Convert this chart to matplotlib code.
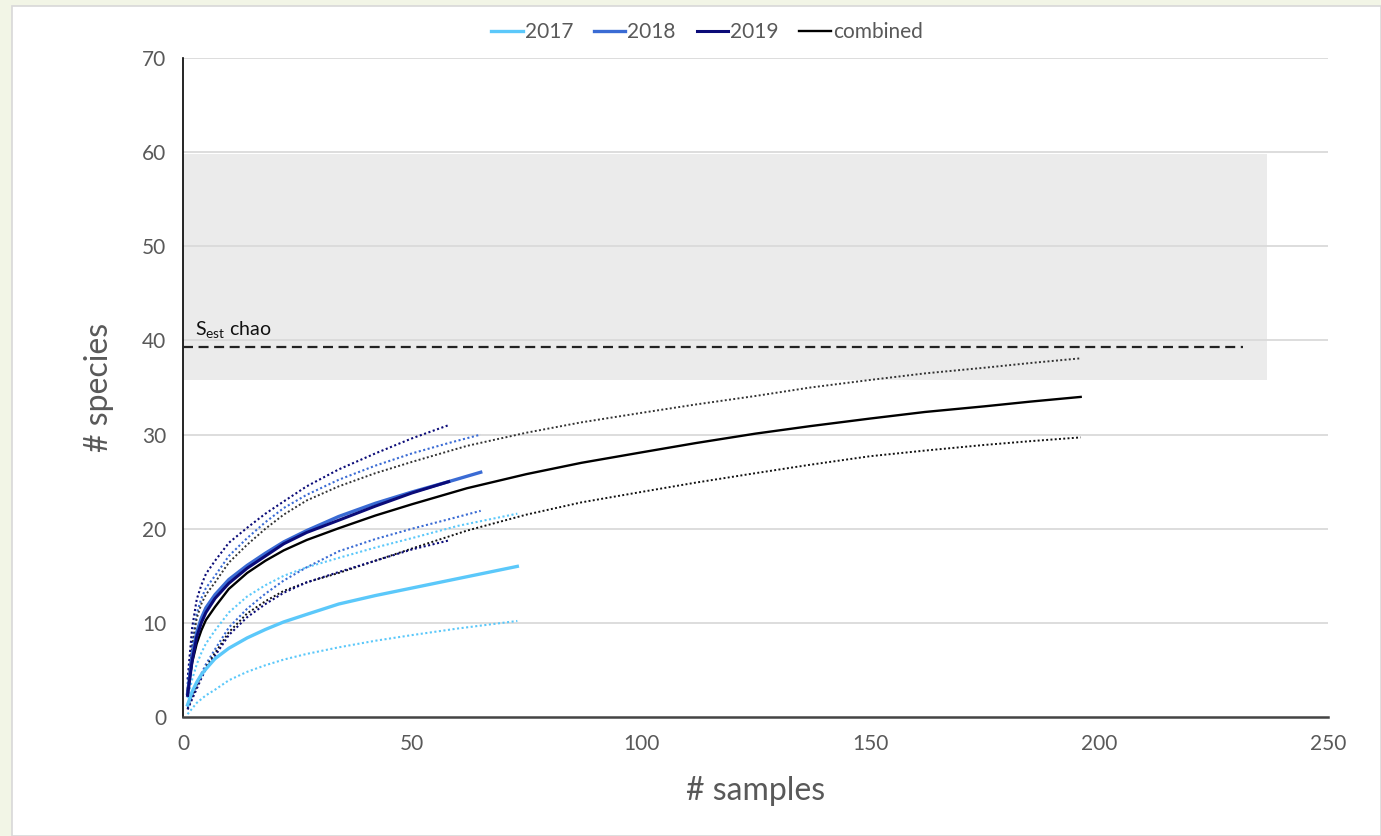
import matplotlib.pyplot as plt
from matplotlib.patches import Rectangle

plt.rcParams['font.family'] = ['Lato', 'DejaVu Sans']

# values (x = # samples, y = # species)
x_2017 = [1, 2, 3, 4, 5, 7, 10, 14, 18, 22, 27, 34, 42, 50, 60, 73]
y_2017 = [1.3, 2.7, 3.7, 4.5, 5.1, 6.2, 7.3, 8.4, 9.3, 10.1, 10.9, 12.0, 12.9, 13.7, 14.7, 16.0]
lo_2017 = [0.3, 0.9, 1.5, 1.9, 2.3, 2.9, 3.9, 4.8, 5.5, 6.1, 6.7, 7.4, 8.1, 8.7, 9.4, 10.2]
hi_2017 = [2.0, 4.0, 5.6, 6.8, 7.8, 9.2, 11.1, 12.8, 14.0, 15.0, 15.9, 16.9, 18.0, 19.0, 20.3, 21.6]

x_2018 = [1, 2, 3, 4, 5, 7, 10, 14, 18, 22, 27, 34, 42, 50, 58, 65]
y_2018 = [2.5, 6.5, 9.0, 10.5, 11.6, 13.0, 14.6, 16.1, 17.4, 18.6, 19.8, 21.3, 22.7, 23.9, 25.0, 26.0]
lo_2018 = [1.0, 2.3, 3.5, 4.6, 5.6, 7.2, 9.5, 11.5, 13.1, 14.5, 15.9, 17.6, 18.9, 20.0, 21.0, 21.9]
hi_2018 = [3.5, 8.0, 11.0, 12.6, 13.7, 15.0, 17.1, 19.0, 20.7, 22.2, 23.6, 25.2, 26.7, 28.0, 29.1, 30.0]

x_2019 = [1, 2, 3, 4, 5, 7, 10, 14, 18, 22, 27, 34, 42, 50, 58]
y_2019 = [2.3, 6.0, 8.5, 10.0, 11.1, 12.6, 14.2, 15.8, 17.1, 18.4, 19.6, 20.9, 22.4, 23.8, 25.0]
lo_2019 = [0.8, 1.9, 3.0, 4.1, 5.1, 6.5, 8.7, 10.6, 12.0, 13.2, 14.3, 15.4, 16.6, 17.8, 18.75]
hi_2019 = [4.0, 9.5, 12.5, 14.0, 15.2, 16.6, 18.5, 20.1, 21.6, 22.9, 24.5, 26.3, 28.0, 29.6, 31.0]

x_all = [1, 2, 3, 4, 5, 7, 10, 14, 18, 22, 27, 34, 42, 50, 62, 75, 87, 100,
         112, 125, 137, 150, 162, 175, 185, 196]
y_all = [2.8, 5.8, 7.8, 9.2, 10.3, 11.7, 13.6, 15.3, 16.6, 17.7, 18.8, 20.05, 21.4, 22.6,
         24.3, 25.8, 27.0, 28.1, 29.1, 30.1, 30.9, 31.7, 32.4, 33.0, 33.5, 34.0]
lo_all = [0.85, 2.1, 3.3, 4.4, 5.3, 6.8, 9.0, 11.0, 12.3, 13.4, 14.3, 15.3, 16.6, 17.9,
          19.8, 21.5, 22.8, 23.9, 24.9, 25.9, 26.8, 27.7, 28.3, 28.9, 29.3, 29.7]
hi_all = [3.0, 7.5, 10.5, 12.0, 13.0, 14.3, 16.4, 18.3, 20.0, 21.5, 23.0, 24.5, 25.9, 27.1,
          28.8, 30.2, 31.3, 32.3, 33.2, 34.1, 35.0, 35.8, 36.5, 37.1, 37.6, 38.1]

chao_est = 39.3
chao_lo, chao_hi = 35.8, 59.8
chao_x = [0, 231.5]
band_x = [-0.4, 236.7]

c17, c18, c19 = '#5BC8FA', '#3A6BD4', '#0B0B78'
txt = '#595959'

fig = plt.figure(figsize=(13.81, 8.36), dpi=100)
fig.patch.set_facecolor('#F2F5E6')
fig.patches.append(Rectangle((12 / 1381, 0), 1 - 12 / 1381, 1 - 6 / 836,
                             transform=fig.transFigure, facecolor='white',
                             edgecolor='#D8D8D8', lw=1.2, zorder=-1))

ax = fig.add_axes([183 / 1381, 1 - 717 / 836, (1328 - 183) / 1381, (717 - 58) / 836])
ax.set_facecolor('none')
ax.set_zorder(2)

ax.fill_between(band_x, chao_lo, chao_hi, color='#EBEBEB', lw=0, zorder=1)
for v in range(10, 80, 10):
    ax.axhline(v, color='#DADADA', lw=1.3, zorder=1.5)
ax.plot(chao_x, [chao_est, chao_est], color='#222222', lw=1.6, ls=(0, (4.5, 2.5)), zorder=3)
ax.text(2.6, 40.6, r'$\mathregular{S_{est}}$ chao', fontsize=14, color='#111111')

dot = (0, (1, 1.2))
ax.plot(x_2017, lo_2017, color=c17, lw=1.5, ls=dot, zorder=2)
ax.plot(x_2017, hi_2017, color=c17, lw=1.5, ls=dot, zorder=2)
ax.plot(x_2018, lo_2018, color=c18, lw=1.5, ls=dot, zorder=2)
ax.plot(x_2018, hi_2018, color=c18, lw=1.5, ls=dot, zorder=2)
ax.plot(x_all, lo_all, color='#111111', lw=1.4, ls=dot, zorder=2)
ax.plot(x_all, hi_all, color='#333333', lw=1.4, ls=dot, zorder=2)
ax.plot(x_2019, lo_2019, color=c19, lw=1.5, ls=dot, zorder=2)
ax.plot(x_2019, hi_2019, color=c19, lw=1.5, ls=dot, zorder=2)

ax.plot(x_2017, y_2017, color=c17, lw=2.4, label='2017', zorder=4)
ax.plot(x_all, y_all, color='black', lw=1.7, label='combined', zorder=4)
ax.plot(x_2018, y_2018, color=c18, lw=2.4, label='2018', zorder=4)
ax.plot(x_2019, y_2019, color=c19, lw=2.2, label='2019', zorder=5)

ax.set_xlim(0, 250)
ax.set_ylim(0, 70)
ax.set_xticks(range(0, 251, 50))
ax.set_yticks(range(0, 71, 10))
ax.tick_params(length=0, labelsize=15, labelcolor=txt, pad=12)
for s in ['top', 'right']:
    ax.spines[s].set_visible(False)
ax.spines['left'].set_color('black')
ax.spines['left'].set_linewidth(1.2)
ax.spines['bottom'].set_color('#444444')
ax.spines['bottom'].set_linewidth(1.8)
ax.set_xlabel('# samples', fontsize=23, color=txt, labelpad=16)
ax.set_ylabel('# species', fontsize=23, color=txt, labelpad=20)

h, l = ax.get_legend_handles_labels()
order = [0, 2, 3, 1]
fig.legend([h[i] for i in order], [l[i] for i in order], loc='center',
           bbox_to_anchor=(707 / 1381, 1 - 32 / 836), ncol=4, frameon=False,
           fontsize=15, labelcolor=txt, handlelength=1.5, handletextpad=0.1,
           columnspacing=1.0)

fig.savefig('out.png', dpi=100, facecolor=fig.get_facecolor())
